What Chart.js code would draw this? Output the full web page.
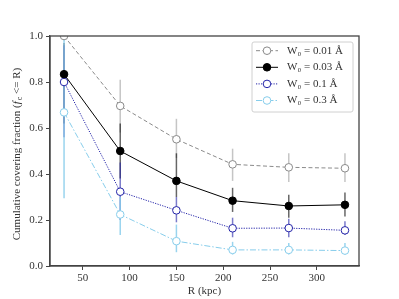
<!DOCTYPE html>
<html>
<head>
<meta charset="utf-8">
<script src="https://cdn.jsdelivr.net/npm/chart.js@4"></script>
<style>
  html, body { margin: 0; padding: 0; background: #fff; }
  #wrap { width: 399px; height: 299px; }
</style>
</head>
<body>
<div id="wrap"><canvas id="fcGraph" width="399" height="299"></canvas></div>
<script>
const radii = [30, 90, 150, 210, 270, 330]
const xTicks = [50, 100, 150, 200, 250, 300]
const yTicks = [0.0, 0.2, 0.4, 0.6, 0.8, 1.0]

const legendNames = ['W₀ = 0.01 Å', 'W₀ = 0.03 Å', 'W₀ = 0.1 Å', 'W₀ = 0.3 Å']

const fc001 = [1.0, 0.696, 0.551, 0.442, 0.429, 0.425]
const fc003 = [0.834, 0.50, 0.37, 0.284, 0.261, 0.266]
const fc01 = [0.80, 0.323, 0.242, 0.164, 0.165, 0.155]
const fc03 = [0.668, 0.224, 0.108, 0.07, 0.07, 0.067]

// lower / upper ends of the error bars
const lo001 = [1.0, 0.58, 0.47, 0.37, 0.365, 0.365]
const hi001 = [1.0, 0.81, 0.64, 0.51, 0.49, 0.49]
const lo003 = [0.62, 0.38, 0.30, 0.235, 0.21, 0.215]
const hi003 = [0.97, 0.62, 0.49, 0.34, 0.31, 0.32]
const lo01 = [0.56, 0.20, 0.19, 0.125, 0.125, 0.135]
const hi01 = [0.96, 0.45, 0.30, 0.21, 0.205, 0.195]
const lo03 = [0.295, 0.135, 0.06, 0.05, 0.05, 0.05]
const hi03 = [1.0, 0.30, 0.18, 0.105, 0.10, 0.10]

const tickFont = "'Liberation Serif', serif"

const styles = [
    { color: '#8a8a8a', err: 'rgba(150,150,150,0.55)', dash: [4, 2.5], fill: '#ffffff', lo: lo001, hi: hi001 },
    { color: '#000000', err: 'rgba(0,0,0,0.6)', dash: [], fill: '#000000', lo: lo003, hi: hi003 },
    { color: '#2323a8', err: 'rgba(35,35,168,0.6)', dash: [1.2, 1.3], fill: '#ffffff', lo: lo01, hi: hi01 },
    { color: '#87cdeb', err: 'rgba(135,205,235,0.85)', dash: [6, 2, 1.5, 2], fill: '#ffffff', lo: lo03, hi: hi03 }
]
const series = [fc001, fc003, fc01, fc03]

const data = {
    datasets: series.map(function (vals, i) {
        let s = styles[i]
        return {
            label: legendNames[i],
            data: vals.map(function (v, k) { return { x: radii[k], y: v } }),
            borderColor: s.color,
            backgroundColor: s.fill,
            pointBorderColor: s.color,
            pointBackgroundColor: s.fill,
            pointRadius: 3.8,
            pointBorderWidth: 1,
            borderWidth: 1,
            borderDash: s.dash,
            tension: 0,
            fill: false
        }
    })
}

const errorBars = {
    id: 'errorBars',
    beforeDatasetsDraw(chart) {
        const ctx = chart.ctx
        const xs = chart.scales.x, ys = chart.scales.y
        ctx.save()
        styles.forEach(function (s) {
            ctx.strokeStyle = s.err
            ctx.lineWidth = 1.5
            radii.forEach(function (r, k) {
                let px = xs.getPixelForValue(r)
                ctx.beginPath()
                ctx.moveTo(px, ys.getPixelForValue(s.lo[k]))
                ctx.lineTo(px, ys.getPixelForValue(s.hi[k]))
                ctx.stroke()
            })
        })
        ctx.restore()
    }
}

const frameAndText = {
    id: 'frameAndText',
    afterDraw(chart) {
        const ctx = chart.ctx
        const a = chart.chartArea
        ctx.save()
        // frame
        ctx.strokeStyle = '#444'
        ctx.lineWidth = 1.3
        ctx.strokeRect(a.left, a.top, a.right - a.left, a.bottom - a.top)

        // x title
        ctx.fillStyle = '#333'
        ctx.font = "11px " + tickFont
        ctx.textAlign = 'center'
        ctx.textBaseline = 'middle'
        ctx.fillText('R (kpc)', (a.left + a.right) / 2, 291)

        // y title with italic f and subscript c
        ctx.translate(17, 154)
        ctx.rotate(-Math.PI / 2)
        const p1 = 'Cumulative covering fraction ('
        const p2 = 'f'
        const p3 = 'c'
        const p4 = ' <= R)'
        ctx.font = "11px " + tickFont
        let w1 = ctx.measureText(p1).width
        let w4 = ctx.measureText(p4).width
        ctx.font = "italic 11px " + tickFont
        let w2 = ctx.measureText(p2).width + 1
        ctx.font = "8px " + tickFont
        let w3 = ctx.measureText(p3).width
        let x0 = -(w1 + w2 + w3 + w4) / 2
        ctx.textAlign = 'left'
        ctx.font = "11px " + tickFont
        ctx.fillText(p1, x0, 0)
        ctx.font = "italic 11px " + tickFont
        ctx.fillText(p2, x0 + w1, 0)
        ctx.font = "8px " + tickFont
        ctx.fillText(p3, x0 + w1 + w2, 3)
        ctx.font = "11px " + tickFont
        ctx.fillText(p4, x0 + w1 + w2 + w3, 0)
        ctx.restore()

        // legend box
        ctx.save()
        const bx = 252, by = 42, bw = 101, bh = 70
        ctx.fillStyle = 'rgba(255,255,255,0.85)'
        ctx.strokeStyle = '#d0d0d0'
        ctx.lineWidth = 1
        ctx.beginPath()
        ctx.roundRect(bx, by, bw, bh, 2)
        ctx.fill()
        ctx.stroke()
        styles.forEach(function (s, i) {
            let yy = 50.7 + i * 16.6
            ctx.strokeStyle = s.color
            ctx.lineWidth = 1
            ctx.setLineDash(s.dash)
            ctx.beginPath()
            ctx.moveTo(256, yy)
            ctx.lineTo(278, yy)
            ctx.stroke()
            ctx.setLineDash([])
            ctx.beginPath()
            ctx.arc(267, yy, 3.8, 0, Math.PI * 2)
            ctx.fillStyle = s.fill
            ctx.fill()
            ctx.stroke()
            ctx.fillStyle = '#333'
            ctx.font = "11px " + tickFont
            ctx.textAlign = 'left'
            ctx.textBaseline = 'middle'
            ctx.fillText(legendNames[i], 287, yy)
        })
        ctx.restore()
    }
}

const config = {
    type: 'line',
    data,
    options: {
        responsive: false,
        animation: false,
        devicePixelRatio: 1,
        layout: { padding: { left: 0, top: 36, right: 40, bottom: 0 } },
        plugins: {
            legend: { display: false },
            tooltip: { enabled: false }
        },
        scales: {
            x: {
                type: 'linear',
                min: 15,
                max: 345,
                afterFit(scale) { scale.height = 33 },
                afterBuildTicks(scale) { scale.ticks = xTicks.map(function (v) { return { value: v } }) },
                grid: { display: true, drawOnChartArea: false, drawTicks: true, tickLength: 4, color: '#444' },
                border: { display: true, color: '#444', width: 1.3 },
                ticks: { color: '#333', font: { family: tickFont, size: 11 }, padding: 2, maxRotation: 0 }
            },
            y: {
                type: 'linear',
                min: 0,
                max: 1,
                afterFit(scale) { scale.width = 50 },
                afterBuildTicks(scale) { scale.ticks = yTicks.map(function (v) { return { value: v } }) },
                grid: { display: true, drawOnChartArea: false, drawTicks: true, tickLength: 4, color: '#444' },
                border: { display: true, color: '#444', width: 1.3 },
                ticks: {
                    color: '#333', font: { family: tickFont, size: 11 }, padding: 3,
                    callback: function (v) { return v.toFixed(1) }
                }
            }
        }
    },
    plugins: [errorBars, frameAndText]
}

const myChart = new Chart(document.getElementById('fcGraph'), config)
</script>
</body>
</html>
